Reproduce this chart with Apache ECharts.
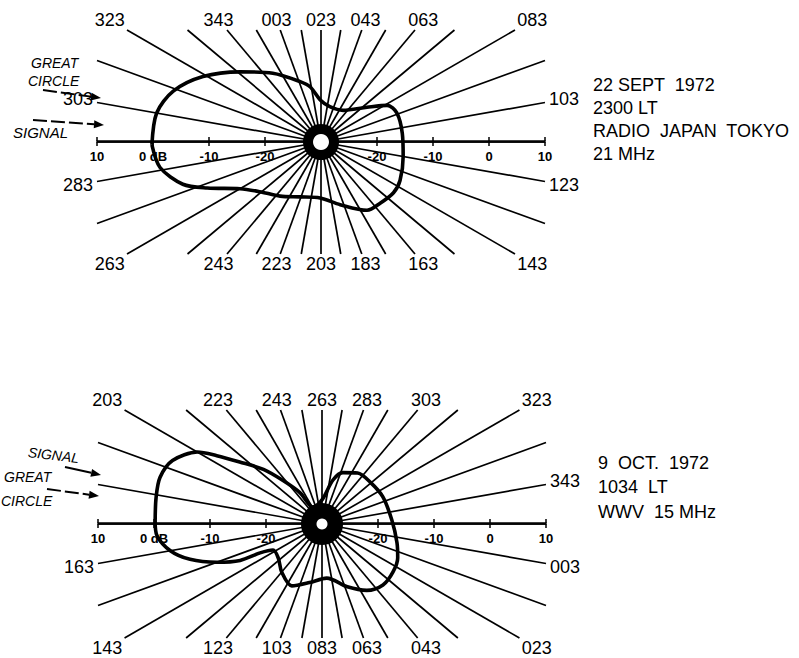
<!DOCTYPE html>
<html><head><meta charset="utf-8">
<script src="https://cdn.jsdelivr.net/npm/echarts@6/dist/echarts.min.js"></script>
<style>html,body{margin:0;padding:0;background:#fff}#c{width:799px;height:658px}</style>
</head><body><div id="c"></div>
<script>
// ---- data ----
// spoke bearings (degrees), drawn every 10 degrees
const SPOKE_BEARINGS = [3,13,23,33,43,53,63,73,83,93,103,113,123,133,143,153,163,173,183,193,203,213,223,233,243,253,263,273,283,293,303,313,323,333,343,353];
const TOP_SPOKE_LABELS = ['003','023','043','063','083','103','123','143','163','183','203','223','243','263','283','303','323','343'];
const BOT_SPOKE_LABELS = ['003','023','043','063','083','103','123','143','163','203','223','243','263','283','303','323','343'];

// pattern 1 : 22 SEPT 1972, Radio Japan Tokyo 21 MHz (bearing deg, relative dB)
const TOP_BEARING = [292,303,312,322,334,348,4,12,22,37,58,76,84,92,107,123,139,148,159,169,186,204,224,240,254,263,271,276,284];
const TOP_DB = [0.2,-0.2,-2.1,-5.9,-10.9,-15.0,-18.6,-20.0,-22.5,-23.5,-23.1,-19.7,-16.5,-15.5,-15.4,-15.1,-14.3,-14.2,-14.8,-15.3,-18.3,-20.0,-19.5,-17.9,-15.9,-13.3,-8.1,-4.2,-0.9];

// pattern 2 : 9 OCT 1972, WWV 15 MHz
const BOT_BEARING = [174,182,189,196,203,206,210,216,221,228,235,263,277,285,298,312,329,350,7,17,27,38,49,61,78,95,109,123,135,145,148,149,153,158,163,169];
const BOT_DB = [-0.2,0.0,0.1,-1.0,-4.3,-7.6,-11.6,-15.7,-19.5,-23.2,-26.6,-25.7,-21.9,-20.1,-18.9,-18.6,-18.1,-17.5,-16.2,-15.2,-14.7,-14.6,-15.7,-17.9,-20.3,-19.3,-17.7,-18.8,-20.1,-20.1,-17.8,-14.0,-10.0,-5.6,-2.5,-0.45];

// dB scale along the horizontal diameter
const AXIS_TICKS = [-40,-30,-20,-10,0,10,20,30,40];
const AXIS_TICK_LABELS = ['10','0 dB','-10','-20','','-20','-10','0','10'];

const TOP_TEXT = ['22 SEPT  1972','2300 LT','RADIO  JAPAN  TOKYO','21 MHz'];
const BOT_TEXT = ['9  OCT.  1972','1034  LT','WWV  15 MHz'];

// ---- layout ----
const DB_MIN = -30, DB_MAX = 10;
const R = 224;
const INK = '#000';
const FONT = 'Liberation Sans';
const PANELS = [
  {center:[321,142], halfH:112, startAngle:113, labels:TOP_SPOKE_LABELS, bearing:TOP_BEARING, db:TOP_DB, blob:36, dot:16},
  {center:[322,524], halfH:114, startAngle:353, labels:BOT_SPOKE_LABELS, bearing:BOT_BEARING, db:BOT_DB, blob:42, dot:11}
];
const LABEL_MX = 19, LABEL_MY = 10;

const chart = echarts.init(document.getElementById('c'), null, {renderer:'svg'});

function spokeSeries(p, i) {
  return {
    type:'custom', coordinateSystem:'polar', polarIndex:i, silent:true, z:1,
    data: SPOKE_BEARINGS.map(b => [DB_MIN, b]),
    renderItem(params, api) {
      const b = api.value(1);
      const c = api.coord([DB_MIN, b]);
      const f = api.coord([DB_MAX, b]);
      const dx = f[0]-c[0], dy = f[1]-c[1];
      const len = Math.hypot(dx, dy);
      const ux = dx/len, uy = dy/len;
      const lim = (h, v) => Math.abs(v) < 1e-9 ? Infinity : h/Math.abs(v);
      const t = Math.min(lim(len, ux), lim(p.halfH, uy));
      const children = [{type:'line', shape:{x1:c[0], y1:c[1], x2:c[0]+ux*t, y2:c[1]+uy*t},
        style:{stroke:INK, lineWidth:1.7}}];
      const lab = String(b).padStart(3,'0');
      if (p.labels.includes(lab)) {
        const t2 = Math.min(lim(len+LABEL_MX, ux), lim(p.halfH+LABEL_MY, uy));
        children.push({type:'text', style:{text:lab, x:c[0]+ux*t2, y:c[1]+uy*t2,
          align:'center', verticalAlign:'middle', fontSize:18, fontFamily:FONT, fill:INK}});
      }
      return {type:'group', children};
    }
  };
}

const series = [];
PANELS.forEach((p, i) => {
  series.push(spokeSeries(p, i));
  const pts = p.db.map((v, k) => [v, p.bearing[k]]);
  pts.push(pts[0]);
  series.push({type:'line', coordinateSystem:'polar', polarIndex:i, data:pts, symbol:'none',
    smooth:0.3, z:3, lineStyle:{color:INK, width:3.6}, silent:true});
  series.push({type:'scatter', coordinateSystem:'polar', polarIndex:i, data:[[DB_MIN,0]],
    symbolSize:p.blob, itemStyle:{color:INK, opacity:1}, z:4, silent:true});
  series.push({type:'scatter', coordinateSystem:'polar', polarIndex:i, data:[[DB_MIN,0]],
    symbolSize:p.dot, itemStyle:{color:'#fff', opacity:1}, z:5, silent:true});
});

const xAxes = [], yAxes = [];
PANELS.forEach((p, i) => {
  const base = {type:'value', gridIndex:i, min:-40, max:40, interval:10,
    axisLine:{onZero:false, lineStyle:{color:INK, width:1.5}},
    axisTick:{length:4, lineStyle:{color:INK, width:1.5}}, splitLine:{show:false}};
  xAxes.push(Object.assign({}, base, {position:'bottom',
    axisLabel:{margin:8, fontSize:13, fontWeight:'bold', fontFamily:FONT, color:INK,
      formatter:v => { const k = AXIS_TICKS.indexOf(v); return k < 0 ? '' : AXIS_TICK_LABELS[k]; }}}));
  xAxes.push(Object.assign({}, base, {position:'top', axisLabel:{show:false}}));
  yAxes.push({type:'value', gridIndex:i, min:0, max:1, show:false});
});

function txt(x, y, text, font, el) {
  return Object.assign({type:'text', x, y, z:10, silent:true,
    style:{text, fill:INK, font, textVerticalAlign:'middle', verticalAlign:'middle'}}, el||{});
}
function arrow(x1, y1, x2, y2, dashed) {
  const a = Math.atan2(y2-y1, x2-x1), L = 10, W = 4;
  const bx = x2 - L*Math.cos(a), by = y2 - L*Math.sin(a);
  return [
    {type:'line', z:10, silent:true, shape:{x1, y1, x2:bx, y2:by}, style:{stroke:INK, lineWidth:2, lineDash: dashed ? [14,4] : null}},
    {type:'polygon', z:10, silent:true, shape:{points:[[x2,y2],[bx - W*Math.sin(a), by + W*Math.cos(a)],[bx + W*Math.sin(a), by - W*Math.cos(a)]]}, style:{fill:INK}}
  ];
}

const MAIN = '18px "'+FONT+'"';
const HAND = 'italic 14px "'+FONT+'"';
const graphics = [];
TOP_TEXT.forEach((t, k) => graphics.push(txt(593, [85,108,131,154][k], t, MAIN)));
BOT_TEXT.forEach((t, k) => graphics.push(txt(598, [463,487,512][k], t, MAIN)));
graphics.push(txt(31, 63, 'GREAT', HAND));
graphics.push(txt(28, 81, 'CIRCLE', HAND));
graphics.push(txt(13, 132, 'SIGNAL', 'italic 15px "'+FONT+'"'));
graphics.push(...arrow(43, 90, 101, 98, true));
graphics.push(...arrow(33, 120, 104, 125, true));
graphics.push(txt(28, 452, 'SIGNAL', HAND, {rotation:-0.12}));
graphics.push(txt(4, 477, 'GREAT', HAND));
graphics.push(txt(1, 501, 'CIRCLE', HAND));
graphics.push(...arrow(65, 467, 101, 475, false));
graphics.push(...arrow(47, 489, 99, 496, true));

chart.setOption({
  backgroundColor:'#fff',
  animation:false,
  polar: PANELS.map(p => ({center:p.center, radius:R})),
  angleAxis: PANELS.map((p, i) => ({polarIndex:i, type:'value', min:0, max:360, startAngle:p.startAngle, clockwise:true,
    axisLine:{show:false}, axisTick:{show:false}, axisLabel:{show:false}, splitLine:{show:false}})),
  radiusAxis: PANELS.map((p, i) => ({polarIndex:i, type:'value', min:DB_MIN, max:DB_MAX,
    axisLine:{show:false}, axisTick:{show:false}, axisLabel:{show:false}, splitLine:{show:false}})),
  grid: PANELS.map(p => ({left:p.center[0]-R, width:2*R, top:p.center[1]-1, height:1})),
  xAxis: xAxes,
  yAxis: yAxes,
  graphic: graphics,
  series
});
</script></body></html>
